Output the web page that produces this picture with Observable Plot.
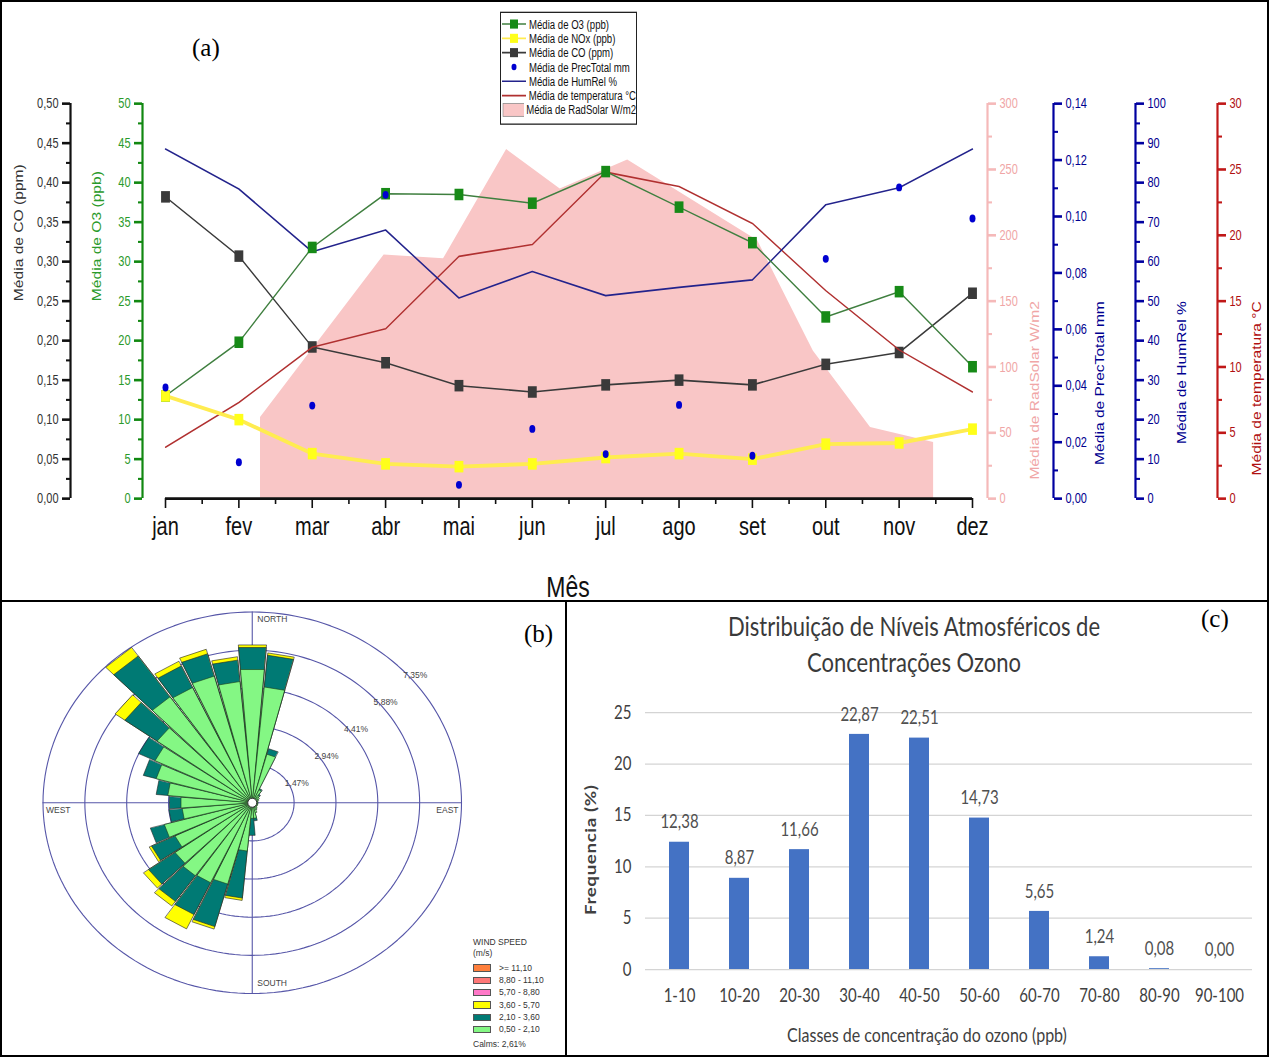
<!DOCTYPE html>
<html><head><meta charset="utf-8">
<script src="https://cdn.jsdelivr.net/npm/d3@7"></script>
<script src="https://cdn.jsdelivr.net/npm/@observablehq/plot@0.6"></script>
<style>
body{margin:0;background:#fff;}
#fig{position:relative;width:1269px;height:1057px;overflow:hidden;background:#fff;font-family:"Liberation Sans",Arial,sans-serif;}
.plab{position:absolute;font-family:"Liberation Serif","Times New Roman",serif;font-size:25px;color:#000;line-height:1;}
.lgrow{display:flex;align-items:center;height:10.9px;white-space:nowrap;}
.lgrow span{font-size:9.6px;color:#111;margin-left:2px;}
</style></head><body><div id="fig"></div>
<script>
// ---------- Panel (a) data ----------
const months = ["jan","fev","mar","abr","mai","jun","jul","ago","set","out","nov","dez"];
const o3   = [13.0,19.8,31.8,38.6,38.5,37.4,41.4,36.9,32.4,23.0,26.2,16.7];
const nox  = [13.0,10.0,5.7,4.4,4.05,4.4,5.2,5.7,5.0,6.9,7.05,8.8];
const co   = [0.382,0.307,0.192,0.172,0.143,0.135,0.144,0.150,0.144,0.170,0.185,0.260];
const prec = [0.0394,0.0129,0.033,0.1077,0.0049,0.0247,0.0158,0.0332,0.0152,0.085,0.1103,0.0993];
const hum  = [88.5,78.4,62.5,68.0,50.8,57.5,51.4,53.5,55.4,74.4,78.7,88.5];
const temp = [3.9,7.3,11.5,12.9,18.4,19.3,24.8,23.7,20.9,15.8,11.3,8.1];
const radPos = [1.295,2.98,3.79,4.65,5.38,6.30,8.07,8.83,9.61,10.47];
const radVal = [61.5,185,182,265,235,257,196,112,54,42.5];

// ---------- Panel (b) data ----------
const dirs  = [0,10,20,30,40,50,60,70,80,90,100,110,120,130,140,150,160,170,180,190,200,210,220,230,240,250,260,270,280,290,300,310,320,330,340,350];
const fLow  = [5.15,4.48,1.94,0.55,0.35,0.30,0.25,0.20,0.20,0.20,0.20,0.20,0.20,0.20,0.25,0.30,0.40,0.60,0.60,1.87,3.25,3.41,3.45,3.32,3.00,3.20,2.47,2.51,2.98,3.50,3.78,4.10,5.00,4.91,5.06,4.69];
const fMid  = [0.85,1.23,0.22,0.05,0.05,0,0,0,0,0,0,0,0,0,0,0,0,0.10,0.66,1.82,1.70,1.36,1.21,1.14,0.91,0.51,0.47,0.41,0.41,0.47,0.64,1.39,1.93,0.92,0.89,0.83];
const fHigh = [0.10,0.09,0,0,0,0,0,0,0,0,0,0,0,0,0,0,0,0,0,0.09,0.10,0.61,0.22,0.22,0.09,0,0,0,0,0,0,0.42,0.40,0.20,0.18,0.13];
const rings = [1.47,2.94,4.41,5.88,7.35];
const speedClasses = [">= 11,10","8,80 - 11,10","5,70 - 8,80","3,60 - 5,70","2,10 - 3,60","0,50 - 2,10"];
const speedColors  = ["#ff7f3c","#ff7878","#ff78c8","#ffff00","#007a74","#84f784"];

// ---------- Panel (c) data ----------
const classes = ["1-10","10-20","20-30","30-40","40-50","50-60","60-70","70-80","80-90","90-100"];
const freq = [12.38,8.87,11.66,22.87,22.51,14.73,5.65,1.24,0.08,0.00];

const comma = (d, n) => d.toFixed(n).replace(".", ",");
const fig = document.getElementById("fig");
function div(css, html) { const e = document.createElement("div"); Object.assign(e.style, {position:"absolute"}, css); if (html != null) e.innerHTML = html; fig.appendChild(e); return e; }

// ================= Panel (a) =================
const S = 1.3, HA = 600, HI = HA / S;
const pa = div({left:"0px", top:"0px", width:"1269px", height:HI+"px", transform:`scaleY(${S})`, transformOrigin:"0 0"});
const base = {
  width: 1269, height: HI,
  marginLeft: 165, marginRight: 1269 - 972,
  marginTop: 103 / S, marginBottom: (HA - 498) / S,
  x: {type: "linear", domain: [0, 11], axis: null},
  style: {background: "transparent", overflow: "visible", fontFamily: "'Liberation Sans', Arial, sans-serif"}
};
function addLayer(yDomain, marks) {
  const svg = Plot.plot({...base, y: {domain: yDomain, axis: null}, marks});
  svg.style.position = "absolute"; svg.style.left = "0px"; svg.style.top = "0px";
  pa.appendChild(svg);
}
function yAxis({anchor, dx, domain, step, fmt, line, text, title, titleDx}) {
  const n = Math.round((domain[1] - domain[0]) / step);
  const major = d3.range(n + 1).map(i => domain[0] + i * step);
  const minor = major.slice(0, -1).map(v => v + step / 2);
  const edge = anchor === "left" ? 0 : 11;
  return [
    Plot.ruleX([edge], {y1: domain[0], y2: domain[1], dx, stroke: line, strokeWidth: 2.2}),
    Plot.axisY({anchor, dx, ticks: minor, tickSize: 4, tickFormat: () => "", color: line, strokeWidth: 1.6}),
    Plot.axisY({anchor, dx, ticks: major, tickSize: 8, tickPadding: 4, tickFormat: fmt, color: text, stroke: line, strokeWidth: 2, fontSize: 11}),
    Plot.text([title], {text: d => d, frameAnchor: anchor, rotate: -90, dx: titleDx, fill: text, fontSize: 12})
  ];
}
const ix = (d, i) => i, iv = d => d;

// RadSolar
addLayer([0, 300], [
  Plot.areaY(radPos, {x: iv, y: (d, i) => radVal[i], fill: "#f9c6c6"}),
  ...yAxis({anchor:"right", dx:15, domain:[0,300], step:50, fmt:d => String(d), line:"#f5b9b9", text:"#f0a6a6", title:"Média de RadSolar W/m2", titleDx:63})
]);
// CO + x axis
addLayer([0, 0.5], [
  Plot.line(co, {x: ix, y: iv, stroke: "#3a3a3a", strokeWidth: 1.2}),
  Plot.dot(co, {x: ix, y: iv, symbol: "square", r: 5, fill: "#3a3a3a"}),
  ...yAxis({anchor:"left", dx:-95, domain:[0,0.5], step:0.05, fmt:d => comma(d,2), line:"#111", text:"#333", title:"Média de CO (ppm)", titleDx:-146}),
  Plot.ruleY([0], {stroke: "#111", strokeWidth: 2}),
  Plot.axisX({anchor:"bottom", ticks: d3.range(0.5, 11, 1), tickSize: 6 / S, tickFormat: () => "", strokeWidth: 1.6, color:"#111"}),
  Plot.axisX({anchor:"bottom", ticks: d3.range(12), tickSize: 10 / S, tickPadding: 6, tickFormat: i => months[i], fontSize: 20, strokeWidth: 1.6, color:"#111"})
]);
// Temperature
addLayer([0, 30], [
  Plot.line(temp, {x: ix, y: iv, stroke: "#b03030", strokeWidth: 1.2}),
  ...yAxis({anchor:"right", dx:245, domain:[0,30], step:5, fmt:d => String(d), line:"#c01818", text:"#b01010", title:"Média de temperatura °C", titleDx:285})
]);
// Humidity
addLayer([0, 100], [
  Plot.line(hum, {x: ix, y: iv, stroke: "#23238c", strokeWidth: 1.3}),
  ...yAxis({anchor:"right", dx:163, domain:[0,100], step:10, fmt:d => String(d), line:"#0000a0", text:"#000090", title:"Média de HumRel %", titleDx:210})
]);
// O3 and NOx (ppb)
addLayer([0, 50], [
  Plot.line(nox, {x: ix, y: iv, stroke: "#ffec50", strokeWidth: 3}),
  Plot.line(o3, {x: ix, y: iv, stroke: "#3f7f3f", strokeWidth: 1.2}),
  Plot.dot(o3, {x: ix, y: iv, symbol: "square", r: 5, fill: "#178a17"}),
  Plot.dot(nox, {x: ix, y: iv, symbol: "square", r: 5, fill: "#ffff1a"}),
  ...yAxis({anchor:"left", dx:-23, domain:[0,50], step:5, fmt:d => String(d), line:"#118811", text:"#2a9a2a", title:"Média de O3 (ppb)", titleDx:-68})
]);
// Precipitation
addLayer([0, 0.14], [
  Plot.dot(prec, {x: ix, y: iv, r: 3, fill: "#0000d0"}),
  ...yAxis({anchor:"right", dx:81, domain:[0,0.14], step:0.02, fmt:d => comma(d,2), line:"#0000a0", text:"#000090", title:"Média de PrecTotal mm", titleDx:128})
]);

// legend (a)
const legendItems = [
  {label:"Média de O3 (ppb)", kind:"ls", c:"#178a17", l:"#3f7f3f"},
  {label:"Média de NOx (ppb)", kind:"ls", c:"#ffff1a", l:"#ffec50"},
  {label:"Média de CO (ppm)", kind:"ls", c:"#3a3a3a", l:"#3a3a3a"},
  {label:"Média de PrecTotal mm", kind:"dot", c:"#0000d0"},
  {label:"Média de HumRel %", kind:"line", l:"#23238c"},
  {label:"Média de temperatura °C", kind:"line", l:"#b03030"},
  {label:"Média de RadSolar W/m2", kind:"box", c:"#f9c6c6"}
];
const lg = document.createElement("div");
Object.assign(lg.style, {position:"absolute", left:"500px", top:(12/S)+"px", width:"137px", height:(113/S)+"px", border:"1px solid #222", boxSizing:"border-box", background:"#fff", paddingTop:"3px"});
lg.innerHTML = legendItems.map(it => {
  let sym = "";
  if (it.kind === "ls") sym = `<line x1="1" x2="25" y1="5.5" y2="5.5" stroke="${it.l}" stroke-width="1.2"/><rect x="9" y="2" width="8" height="7" fill="${it.c}"/>`;
  if (it.kind === "dot") sym = `<circle cx="13" cy="5.5" r="2.5" fill="${it.c}"/>`;
  if (it.kind === "line") sym = `<line x1="1" x2="25" y1="5.5" y2="5.5" stroke="${it.l}" stroke-width="1.3"/>`;
  if (it.kind === "box") sym = `<rect x="2" y="0.5" width="22" height="10" fill="${it.c}" stroke="#888" stroke-width="0.6"/>`;
  return `<div class="lgrow"><svg width="26" height="11">${sym}</svg><span>${it.label}</span></div>`;
}).join("");
pa.appendChild(lg);
// x title
const mes = document.createElement("div");
Object.assign(mes.style, {position:"absolute", left:"468px", width:"200px", textAlign:"center", top:(572/S)+"px", fontSize:"23px", lineHeight:"1", color:"#111"});
mes.textContent = "Mês";
pa.appendChild(mes);

// ================= Panel (b) wind rose =================
const rad = a => a * Math.PI / 180;
const cum = dirs.map((d, i) => [fLow[i], fLow[i] + fMid[i], fLow[i] + fMid[i] + fHigh[i]]);
const present = [fLow, fMid, fHigh];
function wedges(k) {
  return dirs.flatMap((d, i) => {
    if (!(present[k][i] > 0)) return [];
    const r = cum[i][k], a0 = rad(d - 4.6), a1 = rad(d + 4.6);
    return [{id: i, x: 0, y: 0}, {id: i, x: r * Math.sin(a0), y: r * Math.cos(a0)}, {id: i, x: r * Math.sin(a1), y: r * Math.cos(a1)}];
  });
}
const ringPts = rings.flatMap(v => d3.range(0, 361, 2).map(a => ({v, x: v * Math.sin(rad(a)), y: v * Math.cos(rad(a))})));
const R = rings[rings.length - 1];
const compass = [
  {t:"NORTH", x:0, y:R, anchor:"start", dx:5, dy:7},
  {t:"SOUTH", x:0, y:-R, anchor:"start", dx:5, dy:-10},
  {t:"WEST", x:-R, y:0, anchor:"start", dx:3, dy:8},
  {t:"EAST", x:R, y:0, anchor:"end", dx:-3, dy:8}
];
const roseMarks = [
  Plot.line(ringPts, {x: "x", y: "y", z: "v", stroke: "#5656a8", strokeWidth: 1.1}),
  Plot.ruleX([0], {y1: -R, y2: R, stroke: "#5656a8", strokeWidth: 1.1}),
  Plot.ruleY([0], {x1: -R, x2: R, stroke: "#5656a8", strokeWidth: 1.1}),
  Plot.line(wedges(2), {x: "x", y: "y", z: "id", fill: speedColors[3], stroke: "#222", strokeWidth: 0.6, curve: "linear-closed"}),
  Plot.line(wedges(1), {x: "x", y: "y", z: "id", fill: speedColors[4], stroke: "#222", strokeWidth: 0.6, curve: "linear-closed"}),
  Plot.line(wedges(0), {x: "x", y: "y", z: "id", fill: speedColors[5], stroke: "#1a3a1a", strokeWidth: 0.6, curve: "linear-closed"}),
  Plot.dot([0], {x: 0, y: 0, r: 4.5, fill: "#fff", stroke: "#333", strokeWidth: 1}),
  Plot.text(rings, {x: v => v * Math.SQRT1_2, y: v => v * Math.SQRT1_2, text: v => comma(v, 2) + "%", dx: 15, dy: 7, fontSize: 8.5, fill: "#444"})
];
compass.forEach(c => roseMarks.push(Plot.text([c], {x: "x", y: "y", text: "t", textAnchor: c.anchor, dx: c.dx, dy: c.dy, fontSize: 8.5, fill: "#444"})));
const rose = Plot.plot({
  width: 566, height: 455,
  marginLeft: 42.5, marginRight: 105, marginTop: 9.5, marginBottom: 64,
  x: {domain: [-R, R], axis: null}, y: {domain: [-R, R], axis: null},
  style: {background: "transparent", overflow: "visible", fontFamily: "'Liberation Sans', Arial, sans-serif"},
  marks: roseMarks
});
Object.assign(rose.style, {position: "absolute", left: "0px", top: "602px"});
fig.appendChild(rose);
// wind legend
div({left:"473px", top:"937px", fontSize:"8.5px", color:"#333", lineHeight:"11px"},
  `<div>WIND SPEED</div><div>(m/s)</div>` +
  speedClasses.map((s, i) => `<div style="display:flex;align-items:center;height:12.3px;margin-top:${i===0?3:0}px"><span style="display:inline-block;width:18px;height:7.5px;background:${speedColors[i]};border:0.5px solid #555;box-sizing:border-box"></span><span style="margin-left:8px">${s}</span></div>`).join("") +
  `<div style="margin-top:3px">Calms: 2,61%</div>`);

// ================= Panel (c) =================
const SC = 1.25, HC = 456 / SC;
const pc = div({left:"566px", top:"601px", width:"703px", height:HC+"px", transform:`scaleY(${SC})`, transformOrigin:"0 0"});
const bars = Plot.plot({
  width: 703, height: HC,
  marginLeft: 79, marginRight: 17, marginTop: 111 / SC, marginBottom: 88 / SC,
  x: {domain: classes, paddingInner: 0.67, paddingOuter: 0.335, axis: null},
  y: {domain: [0, 25], axis: null},
  style: {background: "transparent", overflow: "visible", fontFamily: "Lato, 'Open Sans', sans-serif"},
  marks: [
    Plot.gridY({ticks: d3.range(0, 26, 5), stroke: "#d4d4d4", strokeOpacity: 1, strokeWidth: 1}),
    Plot.barY(freq, {x: (d, i) => classes[i], y: iv, fill: "#4472c4"}),
    Plot.text(freq, {x: (d, i) => classes[i], y: iv, text: d => comma(d, 2), dy: -16, fontSize: 15, fill: "#505050"}),
    Plot.axisY({ticks: d3.range(0, 26, 5), tickSize: 0, tickPadding: 14, fontSize: 15, color: "#404040"}),
    Plot.axisX({tickSize: 0, tickPadding: 15, fontSize: 15, color: "#404040"})
  ]
});
Object.assign(bars.style, {position: "absolute", left: "0px", top: "0px"});
pc.appendChild(bars);
const ctitle = document.createElement("div");
Object.assign(ctitle.style, {position:"absolute", left:"48px", width:"600px", top:(8/SC)+"px", textAlign:"center", fontFamily:"Lato, 'Open Sans', sans-serif", fontSize:"22px", lineHeight:(36/SC)+"px", color:"#3a3a3a"});
ctitle.innerHTML = "Distribuição de Níveis Atmosféricos de<br>Concentrações Ozono";
pc.appendChild(ctitle);
const cx = document.createElement("div");
Object.assign(cx.style, {position:"absolute", left:"161px", width:"400px", top:(424/SC)+"px", textAlign:"center", fontFamily:"Lato, 'Open Sans', sans-serif", fontSize:"16px", lineHeight:"1", color:"#404040"});
cx.textContent = "Classes de concentração do ozono (ppb)";
pc.appendChild(cx);
const cy = document.createElement("div");
Object.assign(cy.style, {position:"absolute", left:(24-60)+"px", width:"120px", top:(249/SC - 9)+"px", textAlign:"center", fontFamily:"Lato, 'Open Sans', sans-serif", fontSize:"15px", fontWeight:"bold", lineHeight:"18px", color:"#404040", transform:"rotate(-90deg)", letterSpacing:"0.5px"});
cy.textContent = "Frequencia (%)";
pc.appendChild(cy);

// ================= labels & borders =================
div({left:"192px", top:"35px"}, "(a)").className = "plab";
div({left:"524px", top:"621px"}, "(b)").className = "plab";
div({left:"1201px", top:"606px"}, "(c)").className = "plab";
[[0,0,1269,2],[0,0,2,1057],[1267,0,2,1057],[0,1055,1269,2],[0,600,1269,2],[565,601,2,456]].forEach(([l,t,w,h]) =>
  div({left:l+"px", top:t+"px", width:w+"px", height:h+"px", background:"#000"}));
</script></body></html>
